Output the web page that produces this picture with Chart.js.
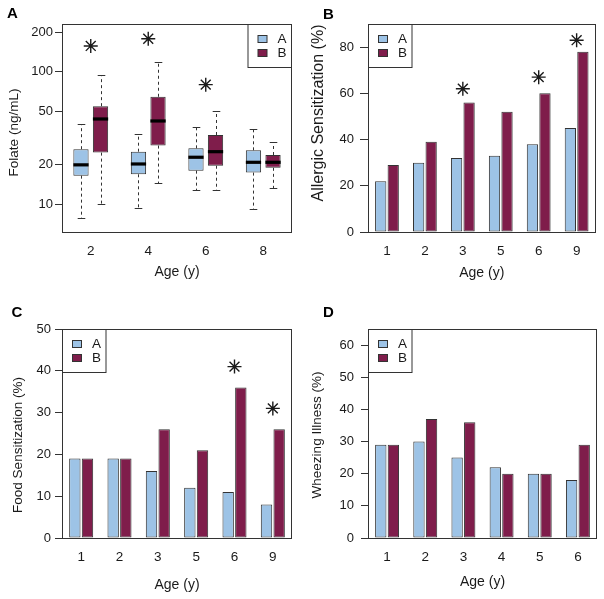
<!DOCTYPE html>
<html><head><meta charset="utf-8">
<script src="https://cdn.jsdelivr.net/npm/chart.js@4.4.1/dist/chart.umd.min.js"></script>
<style>
html,body{margin:0;padding:0;background:#fff;}
#wrap{position:relative;width:604px;height:599px;overflow:hidden;}
canvas{position:absolute;}
</style></head><body>
<div id="wrap">
<canvas id="cA" width="302" height="300" style="left:0;top:0"></canvas>
<canvas id="cB" width="302" height="300" style="left:302px;top:0"></canvas>
<canvas id="cC" width="302" height="299" style="left:0;top:300px"></canvas>
<canvas id="cD" width="302" height="299" style="left:302px;top:300px"></canvas>
</div>
<script>
// ---------------- DATA ----------------
const groupNames = ['A', 'B'];

// Panel A: folate box plots (log scale)
const folateAges = ['2', '4', '6', '8'];
const folateA_lo  = [7.8, 9.3, 12.7, 9.2];
const folateA_q1  = [16.4, 16.8, 17.9, 17.3];
const folateA_med = [19.8, 20.1, 22.6, 20.7];
const folateA_q3  = [26.0, 24.9, 26.4, 25.5];
const folateA_hi  = [40.0, 33.9, 38.1, 36.8];
const folateB_lo  = [10.0, 14.4, 12.7, 13.3];
const folateB_q1  = [24.5, 27.7, 19.5, 18.8];
const folateB_med = [44.0, 42.5, 24.9, 20.7];
const folateB_q3  = [55.0, 64.8, 33.3, 23.5];
const folateB_hi  = [95.0, 118.0, 50.5, 29.7];
const folateStars = [157, 178, 80, null];
const folateTicks = [10, 20, 50, 100, 200];

// Panel B: allergic sensitization
const allergyAges = ['1', '2', '3', '5', '6', '9'];
const allergyA = [22, 30, 32, 33, 38, 45];
const allergyB = [29, 39, 56, 52, 60, 78];
const allergyStars = [null, null, 62, null, 67, 83];
const allergyTicks = [0, 20, 40, 60, 80];

// Panel C: food sensitization
const foodAges = ['1', '2', '3', '5', '6', '9'];
const foodA = [19, 19, 16, 12, 11, 8];
const foodB = [19, 19, 26, 21, 36, 26];
const foodStars = [null, null, null, null, 41, 31];
const foodTicks = [0, 10, 20, 30, 40, 50];

// Panel D: wheezing illness
const wheezeAges = ['1', '2', '3', '4', '5', '6'];
const wheezeA = [29, 30, 25, 22, 20, 18];
const wheezeB = [29, 37, 36, 20, 20, 29];
const wheezeTicks = [0, 10, 20, 30, 40, 50, 60];

// ---------------- STYLE ----------------
const FONT = '"Liberation Sans", Arial, Helvetica, sans-serif';
const TXT = '#1a1a1a';
const LINE = '#333333';
const COL_A = '#9DC3E6';
const COL_B = '#7F1D4B';

function makePanel(id, cfg) {
  const canvas = document.getElementById(id);
  const plugin = {
    id: 'panel_' + id,
    beforeDatasetsDraw(chart) {
      if (!cfg.box) return;
      const ctx = chart.ctx, ys = chart.scales.y;
      ctx.save();
      ctx.strokeStyle = LINE; ctx.lineWidth = 1;
      cfg.box.forEach(g => {
        const meta = chart.getDatasetMeta(g.ds);
        meta.data.forEach((el, i) => {
          const x = Math.round(el.x) + 0.5;
          const cap = el.width * 0.25;
          const yq3 = ys.getPixelForValue(g.q3[i]), yhi = Math.round(ys.getPixelForValue(g.hi[i])) + 0.5;
          const yq1 = ys.getPixelForValue(g.q1[i]), ylo = Math.round(ys.getPixelForValue(g.lo[i])) + 0.5;
          ctx.setLineDash([3, 3]);
          ctx.beginPath();
          ctx.moveTo(x, yq3); ctx.lineTo(x, yhi);
          ctx.moveTo(x, yq1); ctx.lineTo(x, ylo);
          ctx.stroke();
          ctx.setLineDash([]);
          ctx.beginPath();
          ctx.moveTo(x - cap, yhi); ctx.lineTo(x + cap, yhi);
          ctx.moveTo(x - cap, ylo); ctx.lineTo(x + cap, ylo);
          ctx.stroke();
        });
      });
      ctx.restore();
    },
    afterDatasetsDraw(chart) {
      if (!cfg.box) return;
      const ctx = chart.ctx, ys = chart.scales.y;
      ctx.save();
      ctx.strokeStyle = '#000'; ctx.lineWidth = 3.2;
      cfg.box.forEach(g => {
        const meta = chart.getDatasetMeta(g.ds);
        meta.data.forEach((el, i) => {
          const ym = ys.getPixelForValue(g.med[i]);
          ctx.beginPath();
          ctx.moveTo(el.x - el.width / 2, ym); ctx.lineTo(el.x + el.width / 2, ym);
          ctx.stroke();
        });
      });
      ctx.restore();
    },
    afterDraw(chart) {
      const ctx = chart.ctx, a = chart.chartArea;
      ctx.save();
      // frame
      ctx.strokeStyle = LINE; ctx.lineWidth = 1;
      const L = Math.round(a.left) + 0.5, T = Math.round(a.top) + 0.5;
      const R = Math.round(a.right) - 0.5, B = Math.round(a.bottom) + 0.5;
      ctx.strokeRect(L, T, R - L, B - T);
      // legend
      const bw = 43.5, bh = 43;
      const bx = cfg.legendSide === 'right' ? R - bw : L;
      const by = T;
      ctx.fillStyle = '#fff';
      ctx.fillRect(bx, by, bw, bh);
      ctx.strokeRect(bx, by, bw, bh);
      const rows = [{ name: groupNames[0], color: COL_A, dy: 15 }, { name: groupNames[1], color: COL_B, dy: 29 }];
      ctx.font = '13.5px ' + FONT;
      ctx.textBaseline = 'middle';
      rows.forEach(r => {
        ctx.fillStyle = r.color;
        ctx.fillRect(bx + 10, by + r.dy - 4, 9, 7);
        ctx.strokeStyle = LINE;
        ctx.strokeRect(bx + 10, by + r.dy - 4, 9, 7);
        ctx.fillStyle = TXT;
        ctx.fillText(r.name, bx + 29.5, by + r.dy);
      });
      // y-axis title (rotated)
      ctx.save();
      ctx.translate(cfg.yTitleX, cfg.yTitleY);
      ctx.rotate(-Math.PI / 2);
      ctx.font = cfg.yTitleSize + 'px ' + FONT;
      ctx.fillStyle = TXT;
      ctx.textAlign = 'center';
      ctx.textBaseline = 'middle';
      ctx.fillText(cfg.yTitle, 0, 0);
      ctx.restore();
      // panel letter
      ctx.font = 'bold 15px ' + FONT;
      ctx.textBaseline = 'alphabetic';
      ctx.textAlign = 'left';
      ctx.fillStyle = '#000';
      ctx.fillText(cfg.letter, cfg.letterX, cfg.letterY);
      ctx.restore();
    }
  };

  return new Chart(canvas, {
    type: 'bar',
    data: { labels: cfg.labels, datasets: cfg.datasets },
    options: {
      responsive: false,
      animation: false,
      events: [],
      layout: { padding: cfg.padding },
      plugins: { legend: { display: false }, tooltip: { enabled: false } },
      datasets: { bar: { categoryPercentage: cfg.catPct, barPercentage: cfg.barPct } },
      scales: {
        x: {
          offset: true,
          grid: { display: false, drawTicks: false },
          border: { display: false },
          ticks: { color: TXT, font: { family: FONT, size: 13.5 }, padding: cfg.xTickPad, maxRotation: 0, autoSkip: false },
          title: { display: true, text: 'Age (y)', color: TXT, font: { family: FONT, size: 14 }, padding: { top: 0, bottom: cfg.xTitlePad } },
          afterFit: s => { s.height = cfg.xAxisH; }
        },
        y: {
          type: cfg.yType,
          min: cfg.yMin,
          max: cfg.yMax,
          grid: { display: true, drawOnChartArea: false, drawTicks: true, tickLength: cfg.tickLen, color: LINE, lineWidth: 1 },
          border: { display: true, color: LINE },
          ticks: { color: TXT, font: { family: FONT, size: 13 }, padding: cfg.yTickPad, callback: v => String(v) },
          afterBuildTicks: s => { s.ticks = cfg.yTicks.map(v => ({ value: v })); },
          title: { display: false },
          afterFit: s => { s.width = cfg.yAxisW; }
        }
      }
    },
    plugins: [plugin]
  });
}

function barSet(data, color, name) {
  return { label: name, data: data, backgroundColor: color, borderColor: LINE, borderWidth: 1, borderSkipped: false, order: 2 };
}
function starSet(data) {
  return { type: 'line', data: data, showLine: false, pointStyle: 'star', pointRadius: 7,
           borderColor: '#1a1a1a', borderWidth: 1.4, backgroundColor: 'rgba(0,0,0,0)', order: 0 };
}

// Panel A
makePanel('cA', {
  letter: 'A', letterX: 7, letterY: 18,
  labels: folateAges,
  datasets: [
    barSet(folateA_q1.map((q, i) => [q, folateA_q3[i]]), COL_A, groupNames[0]),
    barSet(folateB_q1.map((q, i) => [q, folateB_q3[i]]), COL_B, groupNames[1]),
    starSet(folateStars)
  ],
  box: [
    { ds: 0, lo: folateA_lo, q1: folateA_q1, med: folateA_med, q3: folateA_q3, hi: folateA_hi },
    { ds: 1, lo: folateB_lo, q1: folateB_q1, med: folateB_med, q3: folateB_q3, hi: folateB_hi }
  ],
  yType: 'logarithmic', yMin: 6.15, yMax: 230, yTicks: folateTicks,
  yTitle: 'Folate (ng/mL)', yTitleSize: 13.5, yTitleX: 14, yTitleY: 132.5,
  padding: { left: 0, top: 24, right: 10, bottom: 0 },
  yAxisW: 62, xAxisH: 68, tickLen: 7, yTickPad: 2,
  xTickPad: 11, xTitlePad: 19,
  catPct: 0.68, barPct: 0.78, legendSide: 'right'
});

// Panel B
makePanel('cB', {
  letter: 'B', letterX: 21, letterY: 19,
  labels: allergyAges,
  datasets: [barSet(allergyA, COL_A, groupNames[0]), barSet(allergyB, COL_B, groupNames[1]), starSet(allergyStars)],
  yType: 'linear', yMin: 0, yMax: 90, yTicks: allergyTicks,
  yTitle: 'Allergic Sensitization (%)', yTitleSize: 16, yTitleX: 17, yTitleY: 113,
  padding: { left: 0, top: 24, right: 7, bottom: 0 },
  yAxisW: 66, xAxisH: 68, tickLen: 8, yTickPad: 6,
  xTickPad: 11.5, xTitlePad: 18,
  catPct: 0.66, barPct: 0.9, legendSide: 'left'
});

// Panel C
makePanel('cC', {
  letter: 'C', letterX: 11.5, letterY: 17,
  labels: foodAges,
  datasets: [barSet(foodA, COL_A, groupNames[0]), barSet(foodB, COL_B, groupNames[1]), starSet(foodStars)],
  yType: 'linear', yMin: 0, yMax: 50, yTicks: foodTicks,
  yTitle: 'Food Sensitization (%)', yTitleSize: 13.5, yTitleX: 18, yTitleY: 145,
  padding: { left: 0, top: 29, right: 10, bottom: 0 },
  yAxisW: 62, xAxisH: 61, tickLen: 7, yTickPad: 4,
  xTickPad: 11.5, xTitlePad: 5,
  catPct: 0.66, barPct: 0.9, legendSide: 'left'
});

// Panel D
makePanel('cD', {
  letter: 'D', letterX: 21, letterY: 17,
  labels: wheezeAges,
  datasets: [barSet(wheezeA, COL_A, groupNames[0]), barSet(wheezeB, COL_B, groupNames[1])],
  yType: 'linear', yMin: 0, yMax: 65, yTicks: wheezeTicks,
  yTitle: 'Wheezing Illness (%)', yTitleSize: 13.5, yTitleX: 15.5, yTitleY: 135,
  padding: { left: 0, top: 29, right: 7, bottom: 0 },
  yAxisW: 66, xAxisH: 61, tickLen: 7, yTickPad: 7,
  xTickPad: 11.5, xTitlePad: 8,
  catPct: 0.66, barPct: 0.9, legendSide: 'left'
});
</script>
</body></html>
